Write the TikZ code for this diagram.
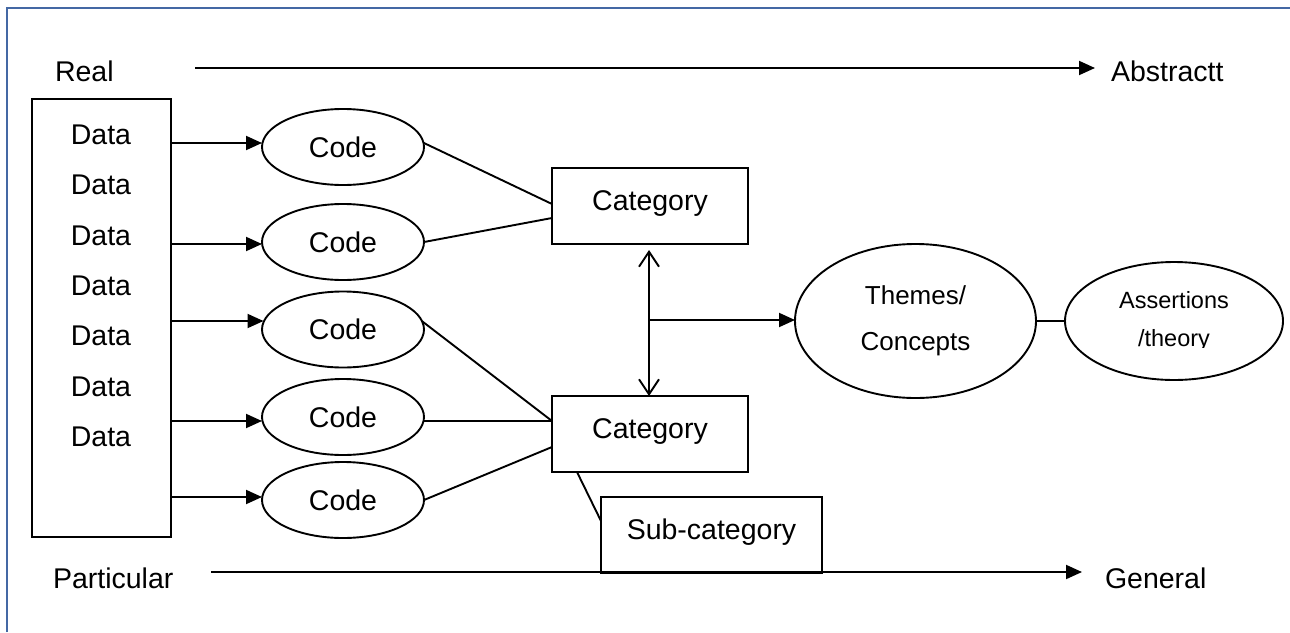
\documentclass[tikz,border=0pt]{standalone}
\usepackage{fontspec}
\setmainfont{Liberation Sans}
\usetikzlibrary{arrows.meta,shapes.geometric,calc}
\definecolor{framecol}{RGB}{68,104,164}
\begin{document}
\begin{tikzpicture}[x=1pt,y=-1pt,
  line width=1.9pt,
  every node/.style={inner sep=0pt,outer sep=0pt},
  txt/.style={font=\fontsize{28.5}{34}\selectfont},
  box/.style={draw,rectangle,txt,text height=21pt,text depth=13pt},
  oval/.style={draw,ellipse,txt,minimum width=162pt,minimum height=76pt},
  arr/.style={-{Triangle[length=16pt,width=14pt]}},
  dbl/.style={{Straight Barb[length=15pt,width=20pt]}-{Straight Barb[length=15pt,width=20pt]}},
]
\useasboundingbox (0,0) rectangle (1290,632);
% page frame (top and left)
\draw[framecol,line width=2pt] (7,632) -- (7,8) -- (1290,8);

% axis labels
\node[txt,anchor=west] (real) at (55,71) {Real};
\node[txt,anchor=west] (abstr) at (1111,71) {Abstractt};
\node[txt,anchor=west] (partic) at (53,578) {Particular};
\node[txt,anchor=west] (general) at (1105,578) {General};
\coordinate (ra1) at (195,68);
\coordinate (ra2) at (1095,68);
\coordinate (pa1) at (211,572);
\coordinate (pa2) at (1082,572);

% data box
\node[draw,minimum width=139pt,minimum height=438pt] (data) at (101.5,318) {};
\foreach \i/\y in {1/135,2/185.3,3/235.6,4/286,5/336.3,6/386.6,7/437}
  \node[txt] (d\i) at (101,\y) {Data};

% codes
\node[oval] (c1) at (343,147) {Code};
\node[oval] (c2) at (343,242) {Code};
\node[oval] (c3) at (343,329.5) {Code};
\node[oval] (c4) at (343,417) {Code};
\node[oval] (c5) at (343,500) {Code};

% categories
\node[box,minimum width=196pt,minimum height=76pt] (cat1) at (650,206) {Category};
\node[box,minimum width=196pt,minimum height=76pt] (cat2) at (650,434) {Category};
\node[box,minimum width=221pt,minimum height=76pt] (sub) at (711.5,535) {Sub-category};

% themes and assertions
\node[draw,ellipse,minimum width=241pt,minimum height=154pt,align=center,
      font=\fontsize{26}{46}\selectfont] (themes) at (915.5,321) {Themes/\\Concepts};
\node[draw,ellipse,minimum width=218pt,minimum height=118pt] (assert) at (1174,321) {};
\begin{scope}
  \clip (1070,260) rectangle (1280,347);
  \node[align=center,font=\fontsize{23.5}{38}\selectfont] (asserttxt) at (1174,321) {Assertions\\/theory};
\end{scope}

% axis arrows
\draw[arr] (ra1) -- (ra2);
\draw[arr] (pa1) -- (pa2);

% data -> code arrows
\draw[arr] ($(data.east|-c1.west)+(0,-4)$) -- ($(c1.west)+(0,-4)$);
\draw[arr] ($(data.east|-c2.west)+(0,2)$) -- ($(c2.west)+(0,2)$);
\draw[arr] ($(data.east|-c3.west)+(0,-8.5)$) -- ($(c3.west)+(1.5,-8.5)$);
\draw[arr] ($(data.east|-c4.west)+(0,4)$) -- ($(c4.west)+(0,4)$);
\draw[arr] ($(data.east|-c5.west)+(0,-3)$) -- ($(c5.west)+(0,-3)$);

% code -> category lines
\draw (c1.3) -- ($(cat1.west)+(0,-2)$);
\draw (c2.east) -- ($(cat1.west)+(0,12)$);
\draw (c3.6) -- ($(cat2.west)+(0,-13)$);
\draw (c4.-3) -- (c4.-3 -| cat2.west);
\draw (c5.east) -- ($(cat2.west)+(0,13)$);

% category -> sub-category
\draw ($(cat2.south west)+(25,0)$) -- ($(sub.west)+(0,-14)$);

% between categories, and to themes
\draw[dbl] ($(cat1.south)+(-1,6)$) -- ($(cat2.north)+(-1,0)$);
\coordinate (br) at ($(cat1.south)!0.5!(cat2.north)+(-1,0)$);
\draw[arr] (br) -- (br -| themes.west);
\draw (themes.east) -- (assert.west);
\end{tikzpicture}
\end{document}
